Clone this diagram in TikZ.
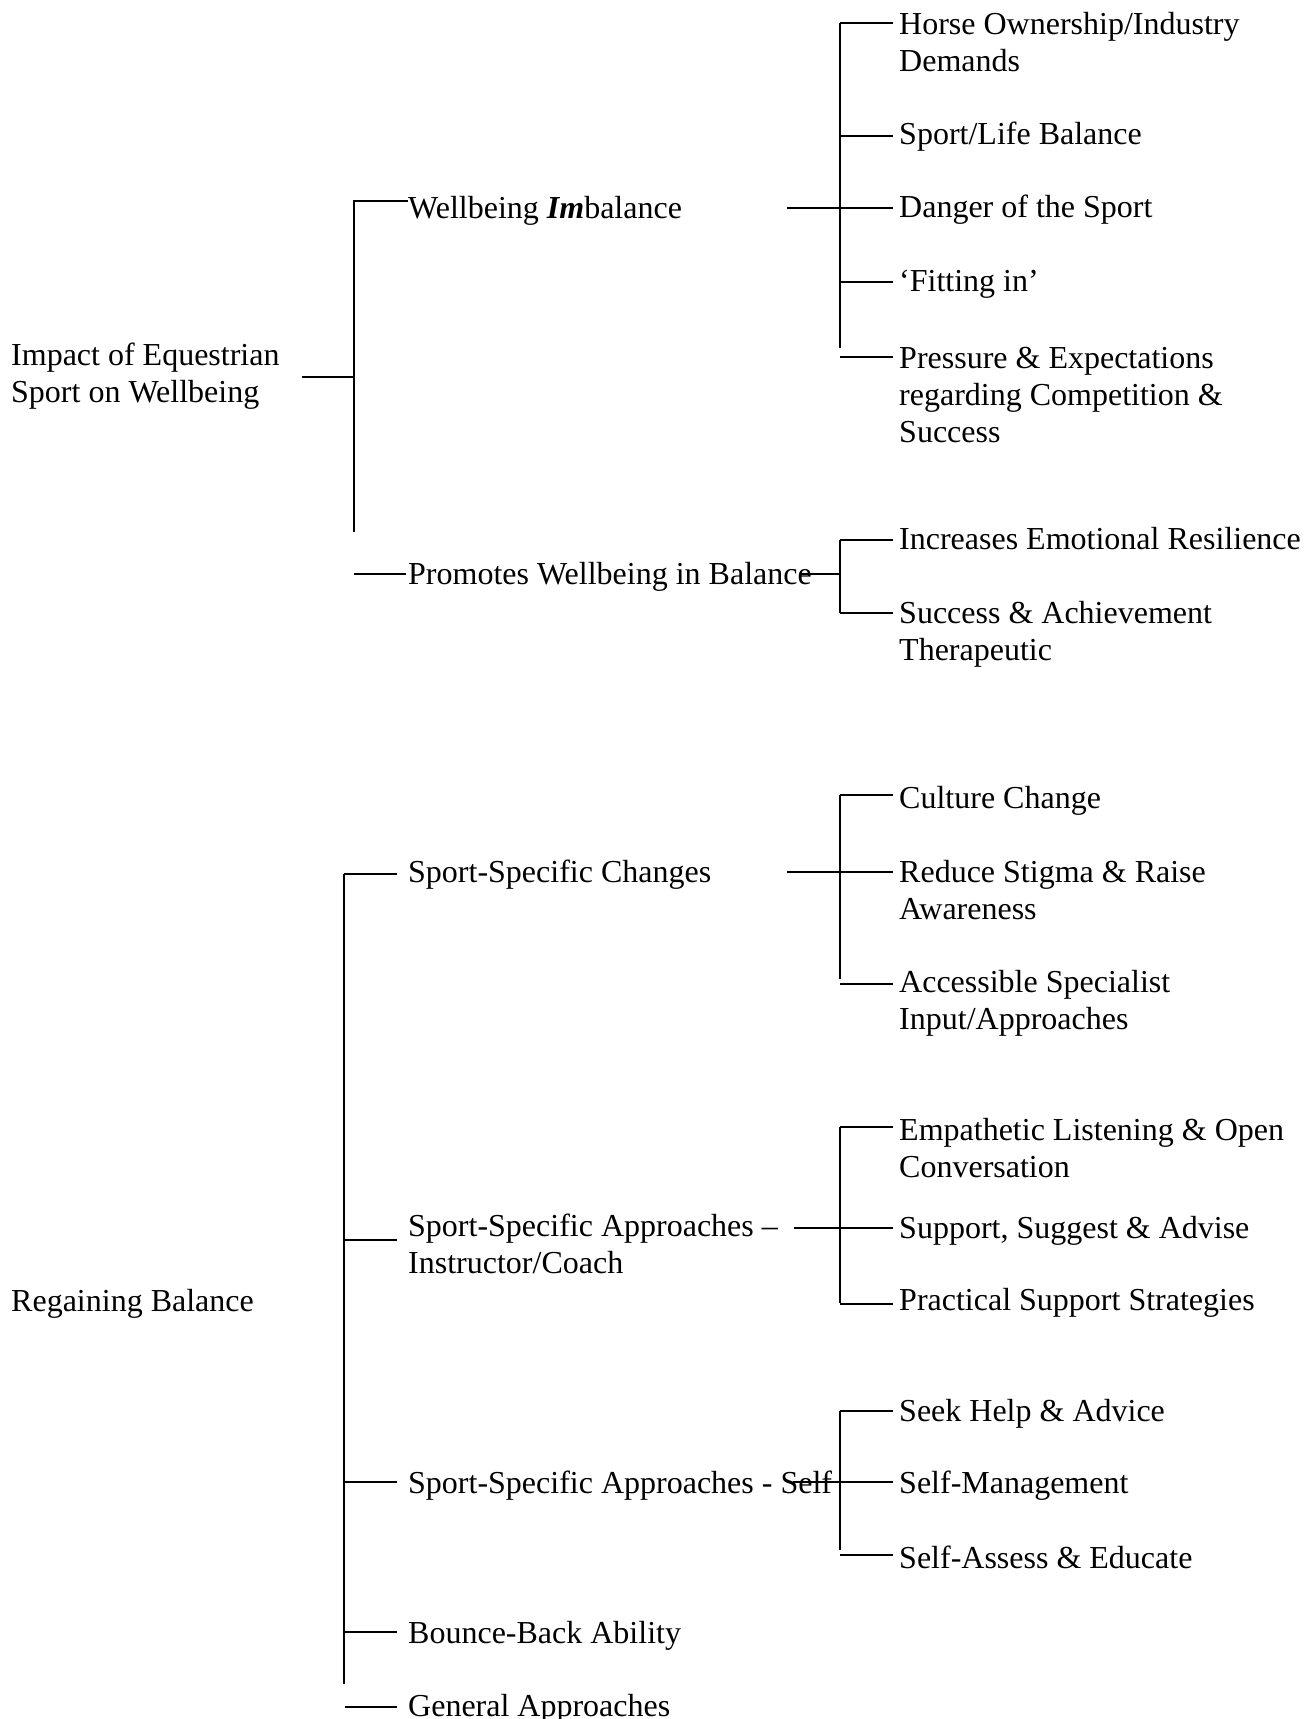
\documentclass[tikz,border=0pt]{standalone}
\usepackage{fontspec}
\setmainfont{Liberation Serif}
\begin{document}
\begin{tikzpicture}[x=1pt,y=-1pt,
  lbl/.style={anchor=north west, inner sep=0pt, align=left,
    font=\fontsize{32}{37}\selectfont, execute at begin node=\strut},
  conn/.style={line width=1.4pt, line cap=butt}]
\path[use as bounding box] (0,0) rectangle (1304,1719);

% ---------- labels ----------
\node[lbl] (r1) at (11,339) {\strut Impact of Equestrian\\Sport on Wellbeing};
\node[lbl] (r2) at (11,1285) {Regaining Balance};

\node[lbl] (w) at (408,192) {Wellbeing \textbf{\textit{Im}}balance};
\node[lbl] (p) at (408,558) {Promotes Wellbeing in Balance};
\node[lbl] (s) at (408,856) {Sport-Specific Changes};
\node[lbl] (i) at (408,1210) {\strut Sport-Specific Approaches –\\Instructor/Coach};
\node[lbl] (f) at (408,1467) {Sport-Specific Approaches - Self};
\node[lbl] (b) at (408,1617) {Bounce-Back Ability};
\node[lbl] (ga) at (408,1690) {General Approaches};

\node[lbl] (h1) at (899,8) {\strut Horse Ownership/Industry\\Demands};
\node[lbl] (h2) at (899,118) {Sport/Life Balance};
\node[lbl] (h3) at (899,191) {Danger of the Sport};
\node[lbl] (h4) at (899,265) {‘Fitting in’};
\node[lbl] (h5) at (899,342) {\strut Pressure \& Expectations\\regarding Competition \&\\Success};
\node[lbl] (g1) at (899,523) {Increases Emotional Resilience};
\node[lbl] (g2) at (899,597) {\strut Success \& Achievement\\Therapeutic};
\node[lbl] (c1) at (899,782) {Culture Change};
\node[lbl] (c2) at (899,856) {\strut Reduce Stigma \& Raise\\Awareness};
\node[lbl] (c3) at (899,966) {\strut Accessible Specialist\\Input/Approaches};
\node[lbl] (e1) at (899,1114) {\strut Empathetic Listening \& Open\\Conversation};
\node[lbl] (e2) at (899,1212) {Support, Suggest \& Advise};
\node[lbl] (e3) at (899,1284) {Practical Support Strategies};
\node[lbl] (k1) at (899,1395) {Seek Help \& Advice};
\node[lbl] (k2) at (899,1467) {Self-Management};
\node[lbl] (k3) at (899,1542) {Self-Assess \& Educate};

% ---------- top tree ----------
\coordinate (T0) at (302,377);
\coordinate (Ttop) at (354,200);
\coordinate (Tbot) at (354,532);
\draw[conn] (T0) -- (T0 -| Ttop);
\draw[conn] (Ttop) -- (Tbot);
\draw[conn] (354,201) -- (408,201);
\draw[conn] (354,574) -- (406,574);

% Wellbeing Imbalance group
\coordinate (W0) at (787,208);
\coordinate (Wtop) at (840,23);
\coordinate (Wbot) at (840,348);
\draw[conn] (W0) -- (893,208);
\draw[conn] (Wtop) -- (Wbot);
\foreach \yy in {23,136,282,357}
  \draw[conn] (840,\yy) -- (893,\yy);

% Promotes group
\coordinate (P0) at (800,574);
\coordinate (Ptop) at (840,540);
\coordinate (Pbot) at (840,613);
\draw[conn] (P0) -- (P0 -| Ptop);
\draw[conn] (Ptop) -- (Pbot);
\draw[conn] (Ptop) -- (893,540);
\draw[conn] (Pbot) -- (893,613);

% ---------- bottom tree ----------
\coordinate (Btop) at (344,874);
\coordinate (Bbot) at (344,1684);
\draw[conn] (Btop) -- (Bbot);
\foreach \yy in {874,1240,1482,1632}
  \draw[conn] (344,\yy) -- (397,\yy);
\draw[conn] (345,1707) -- (397,1707);

% Sport-Specific Changes group
\draw[conn] (787,872) -- (893,872);
\draw[conn] (840,795) -- (840,979);
\draw[conn] (840,795) -- (893,795);
\draw[conn] (840,984) -- (893,984);

% Instructor/Coach group
\draw[conn] (794,1228) -- (893,1228);
\draw[conn] (840,1127) -- (840,1303);
\draw[conn] (840,1127) -- (893,1127);
\draw[conn] (840,1304) -- (893,1304);

% Self group
\draw[conn] (793,1482) -- (893,1482);
\draw[conn] (840,1411) -- (840,1550);
\draw[conn] (840,1411) -- (893,1411);
\draw[conn] (840,1555) -- (893,1555);
\end{tikzpicture}
\end{document}
